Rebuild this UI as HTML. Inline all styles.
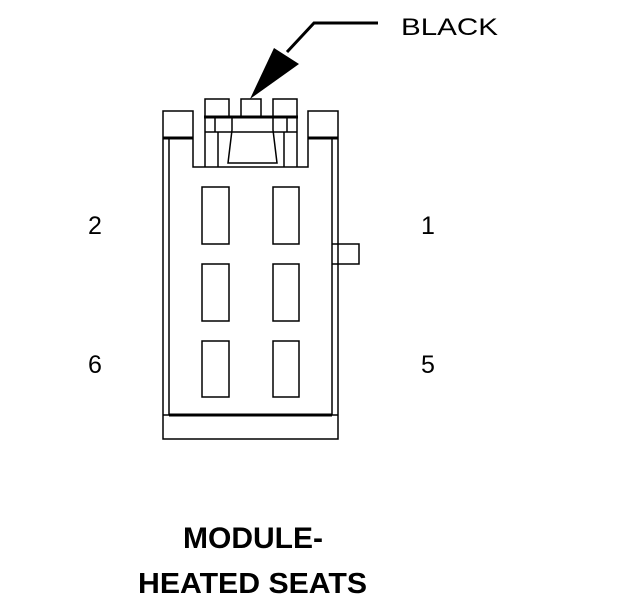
<!DOCTYPE html>
<html><head><style>
body{margin:0;background:#fff;}
svg{display:block;}
text{font-family:"Liberation Sans",Arial,sans-serif;fill:#000;}
</style></head><body>
<svg width="624" height="600" viewBox="0 0 624 600" xmlns="http://www.w3.org/2000/svg">
<g fill="none" stroke="#000" stroke-width="1.5">
<polyline points="378,23 314,23 287,52" stroke-width="3"/>
<polygon points="250,99 274,48 299,64" fill="#000" stroke="none"/>
<path d="M163,111 H193 V167 H308 V111 H338 V439 H163 Z"/>
<line x1="169" y1="138" x2="169" y2="415"/>
<line x1="332" y1="138" x2="332" y2="415"/>
<line x1="163" y1="138" x2="193" y2="138" stroke-width="3"/>
<line x1="308" y1="138" x2="338" y2="138" stroke-width="3"/>
<line x1="169" y1="415" x2="332" y2="415" stroke-width="3"/>
<line x1="163" y1="415" x2="338" y2="415"/>
<rect x="205" y="99" width="24" height="18"/>
<rect x="241" y="99" width="20" height="18"/>
<rect x="273" y="99" width="24" height="18"/>
<line x1="204" y1="117" x2="298" y2="117" stroke-width="3"/>
<line x1="205" y1="117" x2="205" y2="167"/>
<line x1="215" y1="117" x2="215" y2="132"/>
<line x1="218" y1="132" x2="218" y2="167"/>
<line x1="205" y1="132" x2="232" y2="132"/>
<line x1="270" y1="132" x2="297" y2="132"/>
<line x1="287" y1="117" x2="287" y2="132"/>
<line x1="284" y1="132" x2="284" y2="167"/>
<line x1="297" y1="117" x2="297" y2="167"/>
<path d="M232,117 V130 L228,163 H277 L273,130 V117"/>
<line x1="232" y1="132" x2="270" y2="132"/>
<path d="M332,244 H359 V264 H332"/>
<rect x="202" y="187" width="27" height="57"/>
<rect x="273" y="187" width="26" height="57"/>
<rect x="202" y="264" width="27" height="57"/>
<rect x="273" y="264" width="26" height="57"/>
<rect x="202" y="341" width="27" height="56"/>
<rect x="273" y="341" width="26" height="56"/>
</g>
<text x="401" y="35" font-size="24" textLength="97" lengthAdjust="spacingAndGlyphs">BLACK</text>
<text x="88" y="234" font-size="25">2</text>
<text x="421" y="234" font-size="25">1</text>
<text x="88" y="373" font-size="25">6</text>
<text x="421" y="373" font-size="25">5</text>
<text x="183" y="548" font-size="30" font-weight="bold" textLength="140" lengthAdjust="spacingAndGlyphs">MODULE-</text>
<text x="138" y="593" font-size="29" font-weight="bold" textLength="229" lengthAdjust="spacingAndGlyphs">HEATED SEATS</text>
</svg>
</body></html>
